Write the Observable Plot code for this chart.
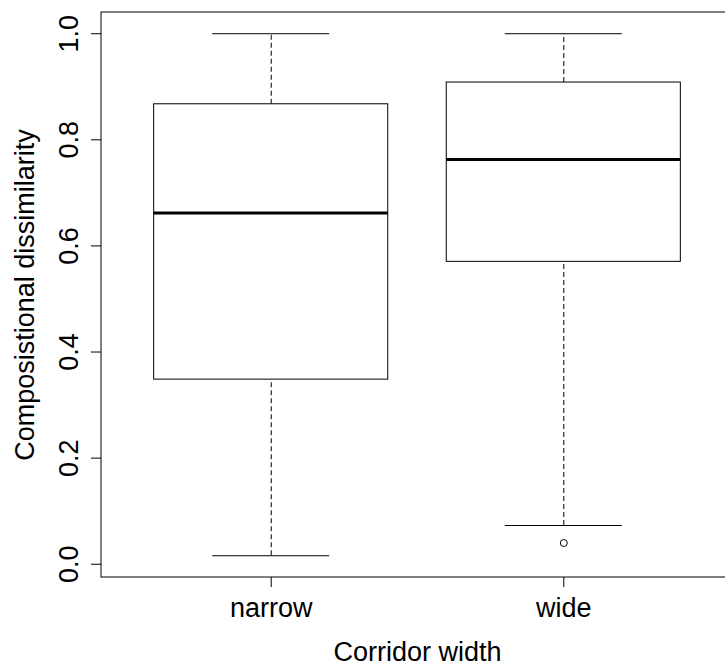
<!DOCTYPE html>
<html>
<head>
<meta charset="utf-8">
<script src="https://cdn.jsdelivr.net/npm/d3@7"></script>
<script src="https://cdn.jsdelivr.net/npm/@observablehq/plot@0.6"></script>
<style>
  html, body { margin: 0; padding: 0; background: white; overflow: hidden; }
  #chart svg { display: block; overflow: hidden; }
</style>
</head>
<body>
<div id="chart"></div>
<script>
// Box-plot summary of compositional dissimilarity by corridor width
const groups = ["narrow", "wide"];
const lowerWhisker = [0.016, 0.073];
const lowerQuartile = [0.348, 0.570];
const medians = [0.662, 0.763];
const upperQuartile = [0.867, 0.908];
const upperWhisker = [1.0, 1.0];
const outlierGroups = ["wide"];
const outlierValues = [0.040];

const yTicks = [0.0, 0.2, 0.4, 0.6, 0.8, 1.0];
const xTitle = "Corridor width";
const yTitle = "Composistional dissimilarity";

// Axis extents (data range padded 4% each side)
const xDomain = [0.42, 2.58];
const yDomain = [-0.025, 1.04];

const boxes = groups.map((g, i) => ({
  group: g,
  pos: i + 1,
  lo: lowerWhisker[i],
  q1: lowerQuartile[i],
  med: medians[i],
  q3: upperQuartile[i],
  hi: upperWhisker[i]
}));
const outliers = outlierGroups.map((g, i) => ({pos: groups.indexOf(g) + 1, value: outlierValues[i]}));

const halfBox = 0.4;
const halfCap = 0.2;
const font = "'Liberation Sans', Arial, sans-serif";
const ink = "#000";
const fs = 27;

const chart = Plot.plot({
  width: 725,
  height: 666,
  marginTop: 12,
  marginBottom: 89,
  marginLeft: 101,
  marginRight: 0,
  x: {domain: xDomain, range: [101, 733], axis: null},
  y: {domain: yDomain, range: [577, 12], axis: null},
  style: {fontFamily: font, background: "white", color: ink},
  marks: [
    // plot frame
    Plot.rect([0], {x1: xDomain[0], x2: xDomain[1], y1: yDomain[0], y2: yDomain[1], fill: "none", stroke: ink, strokeWidth: 1}),
    // axis ticks
    Plot.axisY({ticks: yTicks, anchor: "left", tickSize: 10, fill: "none", label: null, stroke: ink}),
    Plot.axisX({ticks: boxes.map(d => d.pos), anchor: "bottom", tickSize: 10, fill: "none", label: null, stroke: ink}),
    // dashed whiskers
    Plot.ruleX(boxes, {x: "pos", y1: "q3", y2: "hi", stroke: ink, strokeDasharray: "5,3"}),
    Plot.ruleX(boxes, {x: "pos", y1: "lo", y2: "q1", stroke: ink, strokeDasharray: "5,3"}),
    // whisker caps
    Plot.ruleY(boxes, {y: "hi", x1: d => d.pos - halfCap, x2: d => d.pos + halfCap, stroke: ink}),
    Plot.ruleY(boxes, {y: "lo", x1: d => d.pos - halfCap, x2: d => d.pos + halfCap, stroke: ink}),
    // boxes
    Plot.rect(boxes, {x1: d => d.pos - halfBox, x2: d => d.pos + halfBox, y1: "q1", y2: "q3", fill: "white", stroke: ink, strokeWidth: 1}),
    // medians
    Plot.ruleY(boxes, {y: "med", x1: d => d.pos - halfBox, x2: d => d.pos + halfBox, stroke: ink, strokeWidth: 3}),
    // outliers
    Plot.dot(outliers, {x: "pos", y: "value", r: 3.5, stroke: ink, fill: "none", strokeWidth: 1}),
    // y tick labels (parallel to axis)
    Plot.text(yTicks, {x: xDomain[0], y: d => d, text: d => d.toFixed(1), rotate: -90, dx: -24,
      lineAnchor: "bottom", textAnchor: "middle", fontSize: fs, fill: ink}),
    // x tick labels
    Plot.text(boxes, {x: "pos", text: "group", frameAnchor: "bottom", dy: 39, lineAnchor: "bottom",
      textAnchor: "middle", fontSize: fs, fill: ink}),
    // axis titles
    Plot.text([xTitle], {x: (xDomain[0] + xDomain[1]) / 2, text: d => d, frameAnchor: "bottom", dy: 83,
      lineAnchor: "bottom", textAnchor: "middle", fontSize: fs, fill: ink}),
    Plot.text([yTitle], {text: d => d, frameAnchor: "left", rotate: -90, dx: -68,
      lineAnchor: "bottom", textAnchor: "middle", fontSize: fs, fill: ink})
  ]
});

document.getElementById("chart").appendChild(chart);
</script>
</body>
</html>
